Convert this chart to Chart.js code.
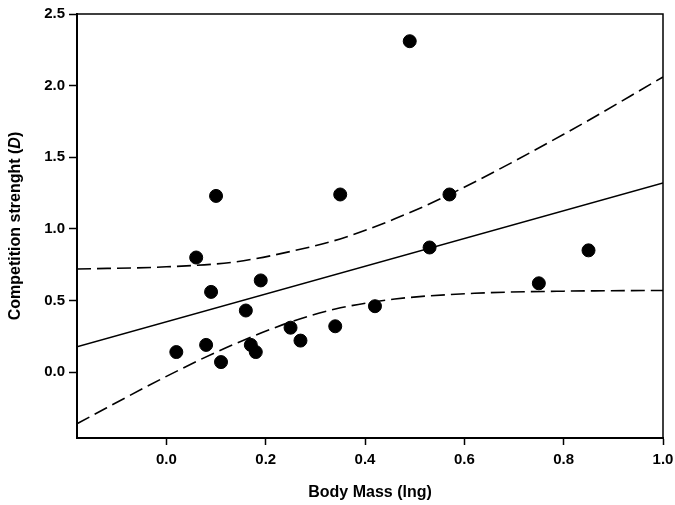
<!DOCTYPE html>
<html>
<head>
<meta charset="utf-8">
<script src="https://cdn.jsdelivr.net/npm/chart.js@4"></script>
<style>
  html, body { margin: 0; padding: 0; background: #fff; }
  #wrap { width: 675px; height: 505px; position: relative; }
</style>
</head>
<body>
<div id="wrap"><canvas id="chart"></canvas></div>
<script>
// Observed points
const bodyMass = [0.02, 0.06, 0.08, 0.09, 0.10, 0.11, 0.16, 0.17, 0.18, 0.19, 0.25, 0.27, 0.34, 0.35, 0.42, 0.49, 0.53, 0.57, 0.75, 0.85];
const strength = [0.14, 0.80, 0.19, 0.56, 1.23, 0.07, 0.43, 0.19, 0.14, 0.64, 0.31, 0.22, 0.32, 1.24, 0.46, 2.31, 0.87, 1.24, 0.62, 0.85];

// Regression line (read at the plot edges)
const fitX = [-0.18, 1.0];
const fitY = [0.177, 1.32];

// Confidence bands
const upperX = [-0.18, 0.0, 0.14, 0.26, 0.35, 0.46, 0.57, 0.8, 1.0];
const upperY = [0.72, 0.735, 0.77, 0.85, 0.93, 1.07, 1.24, 1.66, 2.06];
const lowerX = [-0.18, 0.0, 0.12, 0.25, 0.34, 0.46, 0.62, 0.8, 1.0];
const lowerY = [-0.36, -0.03, 0.17, 0.35, 0.44, 0.51, 0.55, 0.565, 0.57];

// Tick labels
const xTicks = [0.0, 0.2, 0.4, 0.6, 0.8, 1.0];
const yTicks = [0.0, 0.5, 1.0, 1.5, 2.0, 2.5];

const FONT = "'Liberation Sans', Arial, sans-serif";

function toPoints(xs, ys) {
    return xs.map((x, i) => ({ x: x, y: ys[i] }));
}

const bandStyle = {
    type: 'line',
    borderColor: '#000',
    borderWidth: 1.6,
    borderDash: [14, 6],
    pointRadius: 0,
    fill: false,
    cubicInterpolationMode: 'monotone'
};

// Frame on top/right and the y title with an italic D
const framePlugin = {
    id: 'frame',
    afterDraw(chart) {
        const { ctx, chartArea: a } = chart;
        ctx.save();
        ctx.strokeStyle = '#000';
        ctx.lineWidth = 1.5;
        ctx.beginPath();
        ctx.moveTo(a.left, a.top);
        ctx.lineTo(a.right, a.top);
        ctx.lineTo(a.right, a.bottom);
        ctx.stroke();

        // y axis title
        const parts = [
            { t: 'Competition strenght (', f: 'bold 16px ' + FONT },
            { t: 'D', f: 'italic bold 16px ' + FONT },
            { t: ')', f: 'bold 16px ' + FONT }
        ];
        let total = 0;
        parts.forEach(p => { ctx.font = p.f; p.w = ctx.measureText(p.t).width; total += p.w; });
        ctx.translate(16, (a.top + a.bottom) / 2);
        ctx.rotate(-Math.PI / 2);
        ctx.fillStyle = '#000';
        ctx.textBaseline = 'middle';
        ctx.textAlign = 'left';
        let x = -total / 2;
        parts.forEach(p => { ctx.font = p.f; ctx.fillText(p.t, x, 0); x += p.w; });
        ctx.restore();
    }
};

new Chart(document.getElementById('chart'), {
    type: 'scatter',
    data: {
        datasets: [
            {
                data: toPoints(bodyMass, strength),
                backgroundColor: '#000',
                borderColor: '#000',
                pointRadius: 6.5,
                pointHoverRadius: 6.5
            },
            {
                type: 'line',
                data: toPoints(fitX, fitY),
                borderColor: '#000',
                borderWidth: 1.4,
                pointRadius: 0,
                fill: false
            },
            Object.assign({ data: toPoints(upperX, upperY) }, bandStyle),
            Object.assign({ data: toPoints(lowerX, lowerY) }, bandStyle)
        ]
    },
    options: {
        responsive: true,
        maintainAspectRatio: false,
        devicePixelRatio: 1,
        animation: false,
        layout: {
            padding: { top: 14, right: 12, left: 0, bottom: 0 }
        },
        plugins: {
            legend: { display: false },
            tooltip: { enabled: false }
        },
        scales: {
            x: {
                type: 'linear',
                min: -0.18,
                max: 1.0,
                afterBuildTicks: s => { s.ticks = xTicks.map(v => ({ value: v })); },
                afterFit: s => { s.height = 67; s.paddingLeft = 0; s.paddingRight = 0; },
                grid: {
                    display: true,
                    drawOnChartArea: false,
                    drawTicks: true,
                    tickLength: 7,
                    tickColor: '#000',
                    tickWidth: 1.5
                },
                border: { display: true, color: '#000', width: 2 },
                ticks: {
                    color: '#000',
                    padding: 6,
                    font: { family: FONT, size: 15, weight: 'bold' },
                    callback: v => v.toFixed(1)
                },
                title: {
                    display: true,
                    text: 'Body Mass (lng)',
                    color: '#000',
                    font: { family: FONT, size: 16, weight: 'bold' },
                    padding: { top: 0, bottom: 3 }
                }
            },
            y: {
                type: 'linear',
                min: -0.46,
                max: 2.5,
                afterBuildTicks: s => { s.ticks = yTicks.map(v => ({ value: v })); },
                afterFit: s => { s.width = 77; s.paddingTop = 0; s.paddingBottom = 0; },
                grid: {
                    display: true,
                    drawOnChartArea: false,
                    drawTicks: true,
                    tickLength: 8,
                    tickColor: '#000',
                    tickWidth: 1.5
                },
                border: { display: true, color: '#000', width: 2 },
                ticks: {
                    color: '#000',
                    padding: 4,
                    font: { family: FONT, size: 15, weight: 'bold' },
                    callback: v => v.toFixed(1)
                }
            }
        }
    },
    plugins: [framePlugin]
});
</script>
</body>
</html>
